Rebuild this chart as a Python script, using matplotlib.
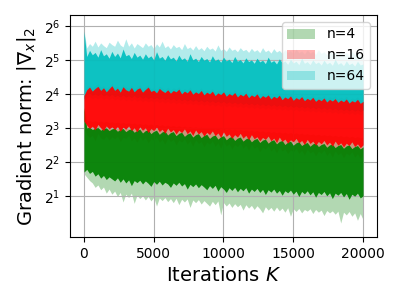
import numpy as np
import matplotlib
matplotlib.use('Agg')
import matplotlib.pyplot as plt
from matplotlib import ticker

# iterations sampled every 200 steps
iterations = np.arange(0, 20001, 200)
series_labels = ['n=4', 'n=16', 'n=64']

# all values are log2 of the gradient norm (envelopes)
# ---- n=4 (green)
g_light_lo = [1.65,
    1.55, 1.45, 1.38, 1.25, 1.32, 1.18, 1.26, 1.08, 1.20, 1.05,
    1.14, 0.98, 1.10, 0.82, 1.05, 0.95, 1.08, 0.78, 1.02, 0.92,
    1.00, 0.88, 0.98, 0.85, 0.96, 0.70, 0.94, 0.86, 0.95, 0.83,
    0.92, 0.80, 0.93, 0.74, 0.90, 0.82, 0.91, 0.66, 0.88, 0.80,
    0.89, 0.76, 0.86, 0.78, 0.70, 0.84, 0.74, 0.85, 0.44, 0.80,
    0.70, 0.79, 0.66, 0.77, 0.68, 0.75, 0.58, 0.74, 0.64, 0.72,
    0.60, 0.71, 0.62, 0.50, 0.68, 0.58, 0.66, 0.55, 0.67, 0.56,
    0.64, 0.52, 0.65, 0.40, 0.62, 0.54, 0.63, 0.50, 0.60, 0.55,
    0.62, 0.48, 0.60, 0.52, 0.58, 0.42, 0.57, 0.50, 0.56, 0.46,
    0.55, 0.20, 0.52, 0.44, 0.54, 0.40, 0.50, 0.28, 0.48, 0.30]
g_dark_lo = [1.70,
    1.78, 1.66, 1.72, 1.58, 1.65, 1.52, 1.60, 1.48, 1.56, 1.50,
    1.44, 1.53, 1.40, 1.50, 1.38, 1.47, 1.30, 1.45, 1.39, 1.46,
    1.35, 1.44, 1.37, 1.28, 1.42, 1.34, 1.43, 1.32, 1.40, 1.35,
    1.25, 1.38, 1.31, 1.40, 1.29, 1.36, 1.20, 1.34, 1.27, 1.35,
    1.24, 1.33, 1.26, 1.18, 1.30, 1.22, 1.31, 1.14, 1.27, 1.20,
    1.10, 1.24, 1.16, 1.25, 1.12, 1.22, 1.15, 1.24, 1.08, 1.20,
    1.13, 1.22, 1.10, 1.19, 1.04, 1.18, 1.11, 1.20, 1.08, 1.16,
    1.02, 1.15, 1.09, 1.17, 1.05, 1.14, 0.98, 1.13, 1.06, 1.15,
    1.03, 1.12, 0.96, 1.10, 1.04, 1.13, 1.00, 1.09, 0.92, 1.08,
    1.02, 1.10, 0.97, 1.07, 0.90, 1.05, 0.99, 1.08, 0.94, 1.00]
g_dark_hi = [3.60,
    3.00, 3.02, 2.95, 2.99, 3.01, 2.93, 2.98, 3.00, 2.92, 2.97,
    2.99, 2.90, 2.96, 2.98, 2.89, 2.95, 2.97, 2.87, 2.93, 2.96,
    2.85, 2.92, 2.94, 2.83, 2.90, 2.93, 2.81, 2.88, 2.91, 2.79,
    2.86, 2.89, 2.77, 2.84, 2.87, 2.75, 2.82, 2.85, 2.73, 2.80,
    2.83, 2.71, 2.78, 2.81, 2.69, 2.76, 2.79, 2.67, 2.74, 2.77,
    2.65, 2.72, 2.75, 2.63, 2.70, 2.73, 2.61, 2.68, 2.71, 2.59,
    2.66, 2.69, 2.57, 2.64, 2.67, 2.55, 2.62, 2.65, 2.53, 2.60,
    2.63, 2.51, 2.58, 2.61, 2.49, 2.56, 2.59, 2.48, 2.54, 2.57,
    2.46, 2.53, 2.56, 2.45, 2.51, 2.54, 2.43, 2.50, 2.52, 2.42,
    2.48, 2.51, 2.40, 2.47, 2.50, 2.39, 2.45, 2.48, 2.38, 2.44]
g_light_hi = [3.70,
    3.20, 3.22, 3.18, 3.21, 3.17, 3.20, 3.16, 3.19, 3.15, 3.18,
    3.14, 3.17, 3.13, 3.16, 3.12, 3.15, 3.11, 3.14, 3.10, 3.13,
    3.09, 3.12, 3.08, 3.11, 3.07, 3.10, 3.06, 3.09, 3.05, 3.08,
    3.04, 3.07, 3.03, 3.06, 3.02, 3.05, 3.01, 3.04, 3.00, 3.03,
    2.99, 3.02, 2.98, 3.01, 2.97, 3.00, 2.96, 2.99, 2.95, 2.98,
    2.94, 2.97, 2.93, 2.96, 2.92, 2.95, 2.91, 2.94, 2.90, 2.93,
    2.89, 2.92, 2.88, 2.91, 2.87, 2.90, 2.86, 2.89, 2.85, 2.88,
    2.84, 2.87, 2.83, 2.86, 2.82, 2.85, 2.81, 2.84, 2.80, 2.83,
    2.79, 2.82, 2.78, 2.81, 2.77, 2.80, 2.76, 2.79, 2.75, 2.78,
    2.74, 2.77, 2.73, 2.76, 2.72, 2.75, 2.71, 2.74, 2.70, 2.73]

# ---- n=16 (red)
r_light_lo = [3.00,
    2.80, 2.72, 2.78, 2.62, 2.84, 2.70, 2.66, 2.76, 2.64, 2.74,
    2.68, 2.76, 2.60, 2.72, 2.70, 2.78, 2.62, 2.70, 2.58, 2.74,
    2.64, 2.72, 2.56, 2.68, 2.64, 2.74, 2.58, 2.66, 2.52, 2.70,
    2.60, 2.66, 2.50, 2.64, 2.58, 2.68, 2.52, 2.62, 2.46, 2.65,
    2.54, 2.60, 2.44, 2.58, 2.52, 2.62, 2.46, 2.56, 2.40, 2.59,
    2.47, 2.53, 2.38, 2.51, 2.45, 2.55, 2.40, 2.49, 2.34, 2.52,
    2.40, 2.46, 2.30, 2.43, 2.38, 2.48, 2.32, 2.41, 2.26, 2.44,
    2.32, 2.38, 2.24, 2.36, 2.30, 2.40, 2.25, 2.34, 2.20, 2.37,
    2.26, 2.32, 2.18, 2.31, 2.25, 2.35, 2.19, 2.29, 2.14, 2.32,
    2.21, 2.27, 2.12, 2.26, 2.20, 2.30, 2.14, 2.24, 2.10, 2.22]
r_dark_lo = [3.20,
    3.08, 2.98, 3.05, 2.94, 3.10, 3.00, 2.92, 3.06, 2.97, 3.03,
    2.95, 3.04, 2.90, 3.02, 2.96, 3.06, 2.92, 3.00, 2.88, 3.03,
    2.93, 3.00, 2.86, 2.98, 2.92, 3.02, 2.89, 2.96, 2.84, 2.99,
    2.88, 2.95, 2.82, 2.93, 2.86, 2.97, 2.83, 2.91, 2.78, 2.94,
    2.82, 2.89, 2.76, 2.87, 2.80, 2.91, 2.77, 2.85, 2.72, 2.88,
    2.75, 2.82, 2.69, 2.80, 2.73, 2.84, 2.70, 2.78, 2.65, 2.80,
    2.68, 2.74, 2.62, 2.72, 2.66, 2.76, 2.62, 2.70, 2.57, 2.73,
    2.60, 2.67, 2.55, 2.65, 2.59, 2.69, 2.56, 2.63, 2.51, 2.66,
    2.54, 2.61, 2.49, 2.60, 2.53, 2.63, 2.50, 2.58, 2.46, 2.61,
    2.49, 2.56, 2.44, 2.55, 2.48, 2.59, 2.45, 2.53, 2.42, 2.50]
r_dark_hi = [3.95,
    4.12, 4.20, 4.08, 4.16, 4.22, 4.10, 4.18, 4.06, 4.15, 4.24,
    4.10, 4.17, 4.05, 4.21, 4.12, 4.08, 4.19, 4.06, 4.14, 4.18,
    4.05, 4.13, 4.20, 4.07, 4.11, 4.03, 4.16, 4.09, 4.04, 4.12,
    4.02, 4.10, 4.06, 4.14, 4.00, 4.08, 4.03, 4.12, 3.99, 4.06,
    4.01, 4.10, 3.97, 4.05, 4.00, 4.08, 3.95, 4.03, 3.98, 4.06,
    3.93, 4.01, 3.96, 4.04, 3.91, 3.99, 3.94, 4.02, 3.89, 3.97,
    3.92, 4.00, 3.87, 3.95, 3.90, 3.97, 3.85, 3.93, 3.88, 3.96,
    3.83, 3.91, 3.86, 3.94, 3.81, 3.89, 3.84, 3.92, 3.80, 3.87,
    3.82, 3.90, 3.78, 3.85, 3.80, 3.88, 3.76, 3.84, 3.79, 3.86,
    3.75, 3.82, 3.77, 3.85, 3.73, 3.80, 3.76, 3.84, 3.72, 3.78]
r_light_hi = [4.05,
    4.22, 4.26, 4.18, 4.24, 4.30, 4.20, 4.25, 4.16, 4.22, 4.32,
    4.19, 4.24, 4.14, 4.28, 4.20, 4.17, 4.26, 4.15, 4.21, 4.27,
    4.14, 4.20, 4.27, 4.15, 4.19, 4.12, 4.23, 4.17, 4.12, 4.20,
    4.11, 4.18, 4.14, 4.21, 4.09, 4.16, 4.12, 4.20, 4.08, 4.14,
    4.10, 4.18, 4.06, 4.13, 4.09, 4.16, 4.04, 4.11, 4.07, 4.14,
    4.02, 4.09, 4.05, 4.12, 4.00, 4.07, 4.03, 4.10, 3.98, 4.05,
    4.01, 4.08, 3.96, 4.03, 3.99, 4.06, 3.94, 4.01, 3.97, 4.04,
    3.92, 3.99, 3.95, 4.02, 3.90, 3.97, 3.93, 4.00, 3.89, 3.95,
    3.91, 3.98, 3.87, 3.93, 3.89, 3.96, 3.85, 3.92, 3.88, 3.94,
    3.84, 3.90, 3.86, 3.93, 3.82, 3.88, 3.85, 3.92, 3.81, 3.86]

# ---- n=64 (cyan)
c_light_lo = [3.75,
    3.88, 3.92, 3.86, 3.90, 3.85, 3.91, 3.84, 3.88, 3.83, 3.89,
    3.82, 3.86, 3.81, 3.87, 3.80, 3.85, 3.79, 3.86, 3.78, 3.83,
    3.77, 3.82, 3.76, 3.81, 3.75, 3.80, 3.74, 3.79, 3.73, 3.78,
    3.72, 3.77, 3.71, 3.76, 3.70, 3.75, 3.69, 3.74, 3.68, 3.73,
    3.67, 3.72, 3.66, 3.71, 3.65, 3.70, 3.64, 3.69, 3.63, 3.68,
    3.62, 3.67, 3.61, 3.66, 3.60, 3.65, 3.59, 3.64, 3.58, 3.63,
    3.57, 3.62, 3.56, 3.61, 3.55, 3.60, 3.54, 3.59, 3.53, 3.58,
    3.52, 3.57, 3.51, 3.56, 3.50, 3.55, 3.49, 3.54, 3.48, 3.53,
    3.47, 3.52, 3.46, 3.51, 3.45, 3.50, 3.44, 3.49, 3.43, 3.48,
    3.42, 3.47, 3.41, 3.46, 3.40, 3.45, 3.39, 3.44, 3.38, 3.43]
c_dark_lo = [3.85,
    3.98, 4.02, 3.96, 4.00, 3.95, 4.01, 3.94, 3.98, 3.93, 3.99,
    3.92, 3.96, 3.91, 3.97, 3.90, 3.95, 3.89, 3.96, 3.88, 3.93,
    3.87, 3.92, 3.86, 3.91, 3.85, 3.90, 3.84, 3.89, 3.83, 3.88,
    3.82, 3.87, 3.81, 3.86, 3.80, 3.85, 3.79, 3.84, 3.78, 3.83,
    3.77, 3.82, 3.76, 3.81, 3.75, 3.80, 3.74, 3.79, 3.73, 3.78,
    3.72, 3.77, 3.71, 3.76, 3.70, 3.75, 3.69, 3.74, 3.68, 3.73,
    3.67, 3.72, 3.66, 3.71, 3.65, 3.70, 3.64, 3.69, 3.63, 3.68,
    3.62, 3.67, 3.61, 3.66, 3.60, 3.65, 3.59, 3.64, 3.58, 3.63,
    3.57, 3.62, 3.56, 3.61, 3.55, 3.60, 3.54, 3.59, 3.53, 3.58,
    3.52, 3.57, 3.51, 3.56, 3.50, 3.55, 3.49, 3.54, 3.48, 3.53]
c_dark_hi = [5.85,
    5.10, 5.28, 5.15, 5.22, 5.08, 5.30, 5.12, 5.18, 5.05, 5.25,
    5.10, 5.20, 5.06, 5.32, 5.12, 5.16, 5.04, 5.22, 5.08, 5.14,
    5.02, 5.18, 5.06, 5.12, 5.00, 5.24, 5.05, 5.10, 4.99, 5.15,
    5.03, 5.08, 4.97, 5.14, 5.01, 5.06, 4.96, 5.18, 5.00, 5.05,
    4.95, 5.10, 4.99, 5.04, 4.94, 5.12, 4.98, 5.03, 4.93, 5.08,
    4.97, 5.02, 4.92, 5.10, 4.96, 5.01, 4.91, 5.06, 4.95, 5.00,
    4.90, 5.05, 4.94, 4.99, 4.89, 5.08, 4.93, 4.98, 4.88, 5.03,
    4.92, 4.97, 4.87, 5.02, 4.91, 4.96, 4.86, 5.05, 4.90, 4.95,
    4.86, 5.00, 4.89, 4.94, 4.85, 4.99, 4.88, 4.93, 4.84, 5.02,
    4.87, 4.92, 4.83, 4.97, 4.86, 4.91, 4.82, 4.96, 4.85, 4.88]
c_light_hi = [5.88,
    5.35, 5.48, 5.40, 5.55, 5.38, 5.50, 5.42, 5.36, 5.52, 5.45,
    5.40, 5.58, 5.44, 5.38, 5.62, 5.40, 5.50, 5.35, 5.48, 5.42,
    5.36, 5.50, 5.40, 5.45, 5.33, 5.47, 5.38, 5.55, 5.36, 5.42,
    5.32, 5.45, 5.36, 5.40, 5.30, 5.48, 5.33, 5.38, 5.29, 5.42,
    5.30, 5.36, 5.27, 5.40, 5.31, 5.35, 5.26, 5.44, 5.28, 5.33,
    5.25, 5.38, 5.28, 5.32, 5.24, 5.36, 5.27, 5.31, 5.22, 5.34,
    5.25, 5.30, 5.21, 5.36, 5.24, 5.29, 5.20, 5.33, 5.23, 5.28,
    5.19, 5.30, 5.22, 5.27, 5.18, 5.32, 5.21, 5.26, 5.17, 5.29,
    5.20, 5.25, 5.16, 5.30, 5.19, 5.24, 5.15, 5.27, 5.18, 5.23,
    5.14, 5.28, 5.17, 5.22, 5.13, 5.25, 5.16, 5.20, 5.12, 5.18]

colors = ['g', 'r', 'c']
light_bands = [(g_light_lo, g_light_hi), (r_light_lo, r_light_hi), (c_light_lo, c_light_hi)]
dark_bands = [(g_dark_lo, g_dark_hi), (r_dark_lo, r_dark_hi), (c_dark_lo, c_dark_hi)]
dark_z = [2.0, 2.2, 2.1]

fig = plt.figure(figsize=(4, 3), dpi=100)
ax = fig.add_axes([0.175, 0.21, 0.7675, 0.74])

for (lo, hi), col, lab in zip(light_bands, colors, series_labels):
    ax.fill_between(iterations, 2.0 ** np.array(lo), 2.0 ** np.array(hi),
                    color=col, alpha=0.3, linewidth=0, label=lab, zorder=1)
for (lo, hi), col, z in zip(dark_bands, colors, dark_z):
    ax.fill_between(iterations, 2.0 ** np.array(lo), 2.0 ** np.array(hi),
                    color=col, alpha=0.93, linewidth=0, zorder=z)

ax.set_yscale('log', base=2)
ax.set_yticks([2 ** k for k in range(1, 7)])
ax.yaxis.set_major_formatter(ticker.LogFormatterSciNotation(base=2))
ax.yaxis.set_minor_locator(ticker.NullLocator())
ax.set_ylim(2 ** -0.21, 2 ** 6.32)
ax.set_xlim(-1000, 21000)
ax.set_xticks([0, 5000, 10000, 15000, 20000])
ax.grid(True)
ax.set_xlabel('Iterations $K$', fontsize=14)
ax.set_ylabel(r'Gradient norm: $|\nabla_x|_2$', fontsize=14)
ax.legend(loc='upper right', fontsize=10)

fig.savefig('out.png', dpi=100)
